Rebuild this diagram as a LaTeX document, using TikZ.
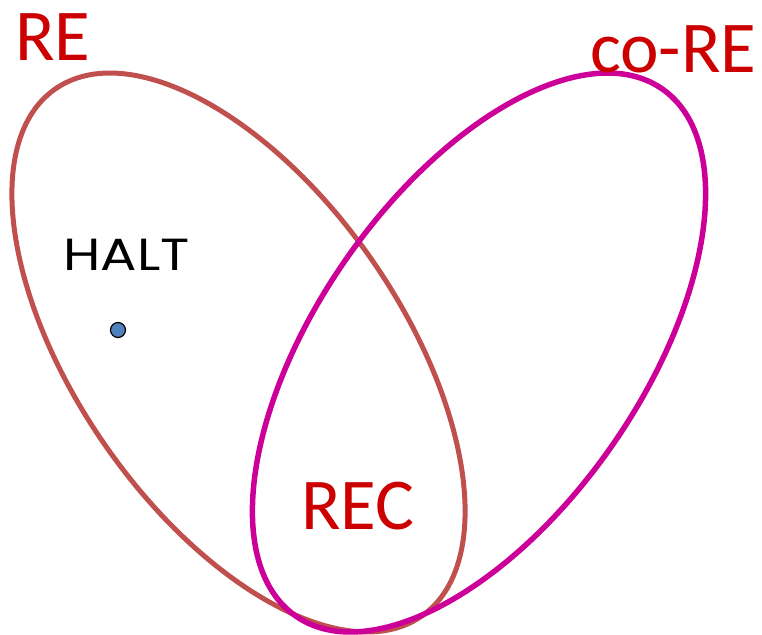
\documentclass[tikz,border=0pt]{standalone}
\usepackage{fontspec}
\setmainfont{Carlito}
\newfontfamily\haltfont{Poppins}
\definecolor{reline}{HTML}{C0504D}
\definecolor{coreline}{HTML}{CC0099}
\definecolor{labred}{HTML}{CC0000}
\definecolor{dotblue}{HTML}{4F81BD}
\begin{document}
\begin{tikzpicture}[x=1pt,y=-1pt,
  setlabel/.style={text=labred,font=\fontsize{73}{73}\selectfont,inner sep=0pt,anchor=base west},
  setshape/.style={line width=5pt}]
\useasboundingbox (0,0) rectangle (762,634);
\draw[setshape,reline] (238.5,352.5) ellipse[x radius=321, y radius=162.4, rotate=-55.2];
\draw[setshape,coreline,line width=5.5pt] (479,352.5) ellipse[x radius=321, y radius=162.4, rotate=55.2];
\node[setlabel] (re) at (15,60) {RE};
\node[setlabel] (core) at (590,72) {co-RE};
\node[setlabel] (rec) at (301,529) {REC};
\node[inner sep=0pt,anchor=base west,font=\haltfont\fontsize{45}{45}\selectfont,xscale=1.2] (halt) at (63,270) {HALT};
\node[circle,draw=black,fill=dotblue,line width=1.2pt,minimum size=15pt,inner sep=0pt] (dot) at (118,330) {};
\end{tikzpicture}
\end{document}
